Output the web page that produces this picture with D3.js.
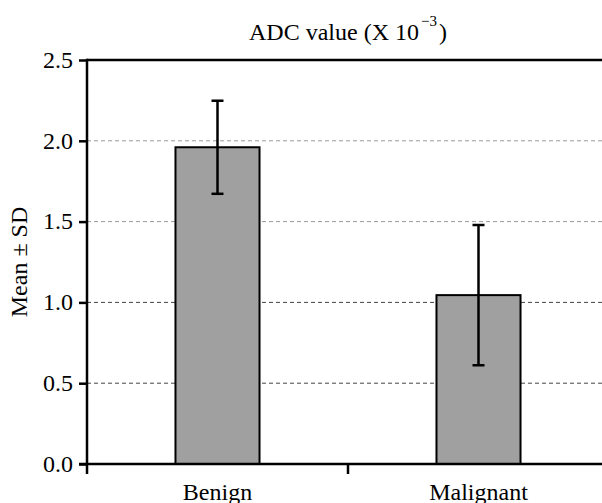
<!DOCTYPE html>
<html>
<head>
<meta charset="utf-8">
<script src="https://cdn.jsdelivr.net/npm/d3@7"></script>
<style>
  body { margin: 0; background: #fff; }
  svg { display: block; }
  svg text { font-family: "Liberation Serif", "Times New Roman", Times, "DejaVu Serif", serif; }
</style>
</head>
<body>
<svg id="chart" width="602" height="503"></svg>
<script>
// data
var categories = ["Benign", "Malignant"];
var means = [1.96, 1.045];
var sds = [0.288, 0.434];
var yTicks = [0, 0.5, 1.0, 1.5, 2.0, 2.5];

(function() {
  var svg = d3.select("#chart");
  var pl = 87, pr = 609, pt = 60, pb = 464;

  var x = d3.scaleBand().domain(categories).range([pl, pr]);
  var y = d3.scaleLinear().domain([0, 2.5]).range([pb, pt]);
  var bw = x.bandwidth() * 0.322;
  var cx = d => x(d) + x.bandwidth() / 2;

  // dashed gridlines
  svg.append("g").selectAll("line").data(yTicks.filter(d => d > 0 && d < 2.5)).enter().append("line")
    .attr("x1", pl).attr("x2", 602)
    .attr("y1", d => y(d)).attr("y2", d => y(d))
    .style("stroke", d => d >= 1.5 ? "#9a9a9a" : "#444")
    .style("stroke-width", 1)
    .style("stroke-dasharray", "4,3");

  // top border line at 2.5
  svg.append("line")
    .attr("x1", pl).attr("x2", 602).attr("y1", y(2.5)).attr("y2", y(2.5))
    .style("stroke", "black").style("stroke-width", 2.5);

  // bars
  var bars = categories.map((c, i) => ({cat: c, mean: means[i], sd: sds[i]}));
  svg.append("g").selectAll("rect").data(bars).enter().append("rect")
    .attr("x", d => cx(d.cat) - bw / 2)
    .attr("width", bw)
    .attr("y", d => y(d.mean))
    .attr("height", d => y(0) - y(d.mean))
    .style("fill", "#a0a0a0").style("stroke", "black").style("stroke-width", 2);

  // error bars
  var eb = svg.append("g").selectAll("g").data(bars).enter().append("g")
    .style("stroke", "black").style("stroke-width", 2.5);
  eb.append("line")
    .attr("x1", d => cx(d.cat)).attr("x2", d => cx(d.cat))
    .attr("y1", d => y(d.mean + d.sd)).attr("y2", d => y(d.mean - d.sd));
  [1, -1].forEach(function(s) {
    eb.append("line")
      .attr("x1", d => cx(d.cat) - 6).attr("x2", d => cx(d.cat) + 6)
      .attr("y1", d => y(d.mean + s * d.sd)).attr("y2", d => y(d.mean + s * d.sd));
  });

  // y axis
  var yAxis = svg.append("g").attr("transform", "translate(" + pl + ",0)")
    .call(d3.axisLeft(y).tickValues(yTicks).tickFormat(d3.format(".1f")).tickSizeInner(8).tickSizeOuter(0).tickPadding(6));
  yAxis.select(".domain").remove();
  yAxis.selectAll(".tick line").style("stroke", "black").style("stroke-width", 2.5);
  yAxis.selectAll("text").style("font-size", "24px").style("fill", "black").attr("dy", "0.3em");
  svg.append("line").attr("x1", pl).attr("x2", pl).attr("y1", pt - 1.2).attr("y2", pb + 10)
    .style("stroke", "black").style("stroke-width", 2.5);

  // x axis
  svg.append("line").attr("x1", pl - 8).attr("x2", 602).attr("y1", pb).attr("y2", pb)
    .style("stroke", "black").style("stroke-width", 2.5);
  svg.append("g").selectAll("line").data(categories.slice(1).map(c => x(c))).enter().append("line")
    .attr("x1", d => d).attr("x2", d => d).attr("y1", pb).attr("y2", pb + 10)
    .style("stroke", "black").style("stroke-width", 2.5);
  svg.append("g").selectAll("text").data(categories).enter().append("text")
    .attr("x", d => cx(d)).attr("y", 500)
    .attr("text-anchor", "middle").style("font-size", "24px").text(d => d);

  // y label
  svg.append("text").attr("transform", "translate(27," + ((pt + pb) / 2) + ") rotate(-90)")
    .attr("text-anchor", "middle").style("font-size", "24px").text("Mean ± SD");

  // title
  var title = svg.append("text").attr("x", (pl + pr) / 2).attr("y", 40)
    .attr("text-anchor", "middle").style("font-size", "24px");
  title.append("tspan").text("ADC value (X 10");
  title.append("tspan").attr("dy", -14).attr("dx", 2).style("font-size", "15px").text("\u22123");
  title.append("tspan").attr("dy", 14).attr("dx", 2).text(")");
})();
</script>
</body>
</html>
